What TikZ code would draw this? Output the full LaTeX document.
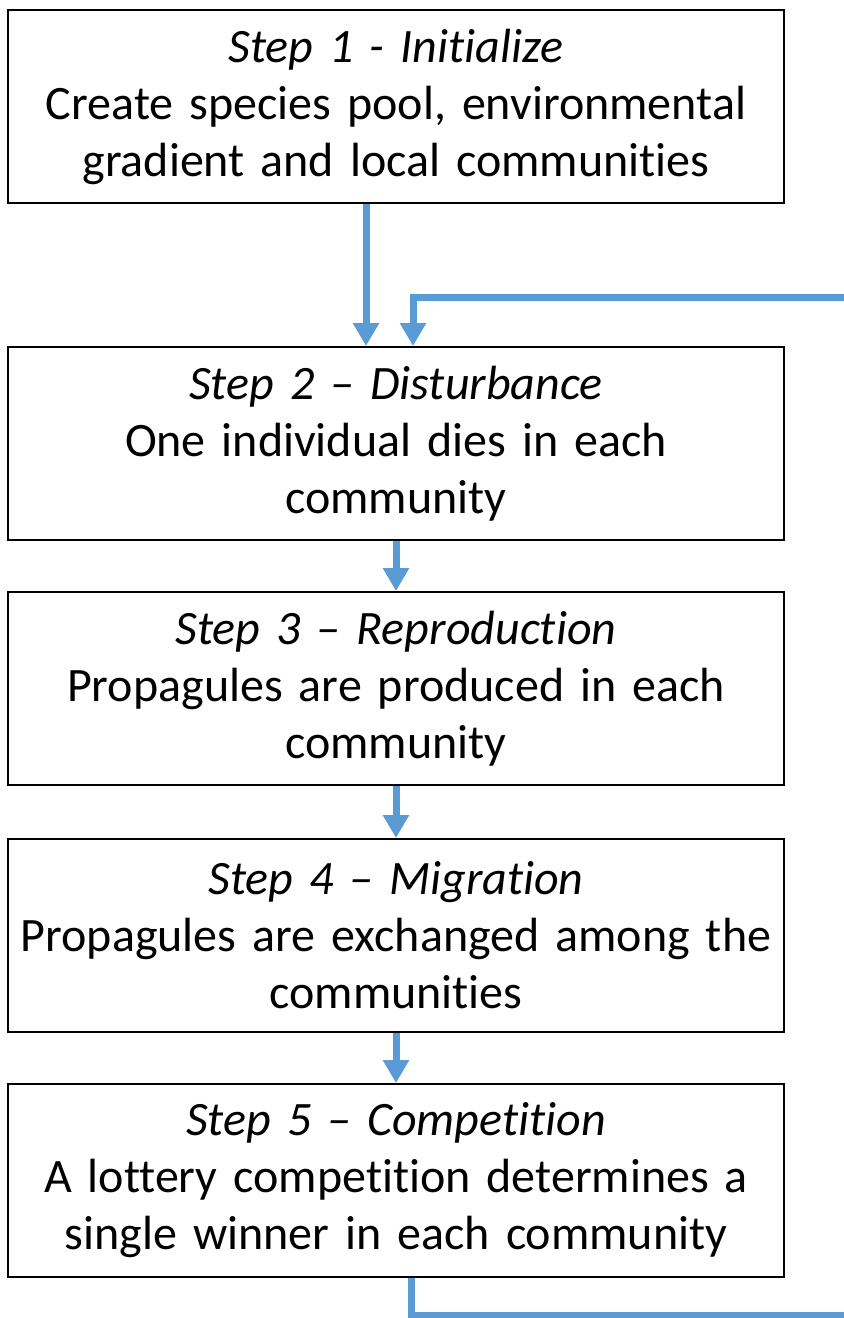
\documentclass[tikz,border=0pt]{standalone}
\usepackage{fontspec}
\setmainfont[Ligatures=NoCommon, WordSpace=0.85]{Carlito}
\usepackage{tikz}
\usetikzlibrary{positioning,arrows.meta}
\definecolor{flowblue}{RGB}{91,155,213}

\begin{document}
\begin{tikzpicture}[x=1pt,y=1pt]
                \tikzstyle{stepbox} = [draw, line width=1pt, minimum width=388pt, minimum height=96.5pt, text width=384pt, align=center, inner sep=0pt, font=\fontsize{24}{28.5}\selectfont]
                \tikzstyle{flow} = [draw=flowblue, line width=3.5pt, -{Triangle[width=12.5pt,length=11.5pt]}]
                \useasboundingbox (0,0) rectangle (421.5,-659);
                \node[stepbox] (init) at (198,-53.25) {\textit{Step 1 - Initialize}\\Create species pool, environmental\\gradient and local communities};
                \node[stepbox, below=71pt of init] (disturb) {\textit{Step 2 -- Disturbance}\\One individual dies in each\\community};
                \node[stepbox, below=25pt of disturb] (reprod) {\textit{Step 3 -- Reproduction}\\Propagules are produced in each\\community};
                \node[stepbox, below=26pt of reprod] (migrate) {\textit{Step 4 -- Migration}\\Propagules are exchanged among the\\communities};
                \node[stepbox, below=25pt of migrate] (compete) {\textit{Step 5 -- Competition}\\A lottery competition determines a\\single winner in each community};
                \coordinate (lowright) at (440,-657.5);
                \coordinate (highright) at (440,-148.5);
                \draw[flow] ([xshift=-15pt]init.south) -- ([xshift=-15pt]disturb.north);
                \foreach \a/\b in {disturb/reprod, reprod/migrate, migrate/compete} {
                    \draw[flow] (\a.south) -- (\b.north);
                }
                \draw[flow] ([xshift=7.5pt]compete.south) |- (lowright) -- (highright) -| ([xshift=8.5pt]disturb.north);
            \end{tikzpicture}
\end{document}
